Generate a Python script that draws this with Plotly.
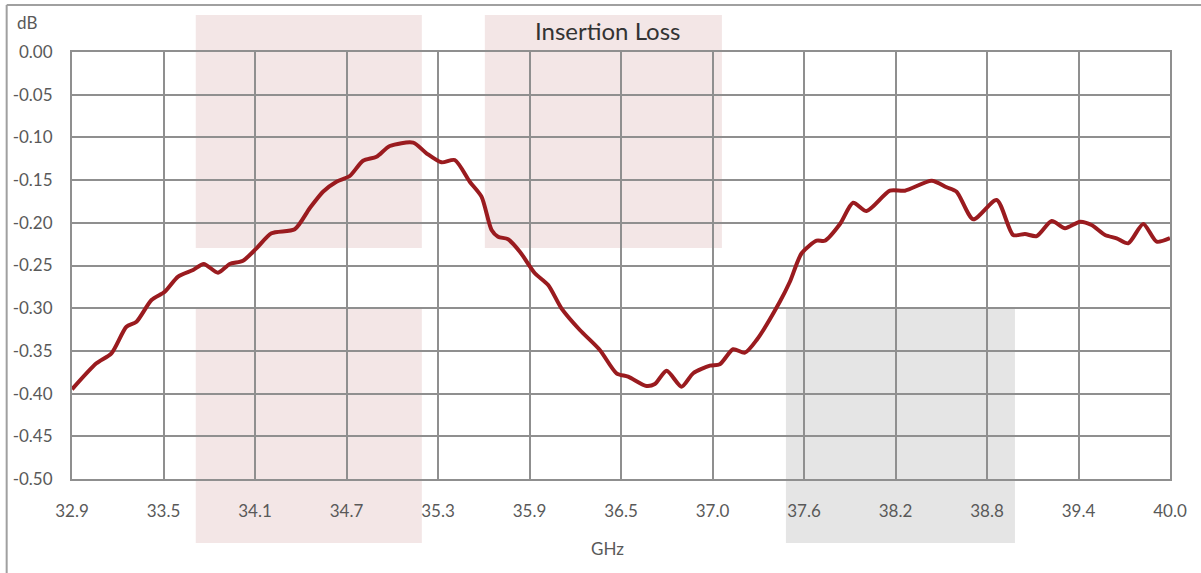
import numpy as np
import plotly.graph_objects as go

# ---- data ----
freq_ghz = [32.90, 33.058, 33.155, 33.252, 33.317, 33.414, 33.50, 33.586, 33.683, 33.752,
            33.844, 33.92, 34.006, 34.093, 34.19, 34.34, 34.437, 34.523, 34.61, 34.696,
            34.782, 34.869, 34.955, 35.106, 35.192, 35.289, 35.375, 35.472, 35.548, 35.613,
            35.655, 35.72, 35.796, 35.893, 35.979, 36.065, 36.184, 36.313, 36.421, 36.496,
            36.615, 36.669, 36.745, 36.842, 36.917, 37.025, 37.089, 37.175, 37.251, 37.327,
            37.477, 37.542, 37.618, 37.715, 37.768, 37.866, 37.951, 38.038, 38.189, 38.286,
            38.459, 38.556, 38.62, 38.728, 38.879, 38.986, 39.062, 39.138, 39.235, 39.321,
            39.418, 39.493, 39.58, 39.655, 39.73, 39.827, 39.914, 40.0]
loss_db = [-0.395, -0.3645, -0.3528, -0.3217, -0.3158, -0.2904, -0.2807, -0.2631, -0.2553, -0.2482,
           -0.2584, -0.2482, -0.2444, -0.2299, -0.2123, -0.2076, -0.1830, -0.1636, -0.1519, -0.1452,
           -0.1273, -0.1226, -0.1101, -0.1062, -0.1186, -0.1292, -0.1265, -0.1519, -0.1694, -0.2084,
           -0.2163, -0.2193, -0.2338, -0.2591, -0.2728, -0.3001, -0.3255, -0.3489, -0.3762, -0.3802,
           -0.3911, -0.3888, -0.3732, -0.3919, -0.3762, -0.3673, -0.3657, -0.3481, -0.3521, -0.3372,
           -0.2924, -0.2690, -0.2357, -0.2210, -0.2210, -0.2014, -0.1765, -0.1862, -0.1624, -0.1624,
           -0.1507, -0.1584, -0.1636, -0.1959, -0.1733, -0.2143, -0.2131, -0.2155, -0.1979, -0.2064,
           -0.1987, -0.2026, -0.2143, -0.2182, -0.2240, -0.2014, -0.2221, -0.218]

x_tick_labels = ["32.9", "33.5", "34.1", "34.7", "35.3", "35.9", "36.5",
                 "37.0", "37.6", "38.2", "38.8", "39.4", "40.0"]
y_tick_values = [0.0, -0.05, -0.10, -0.15, -0.20, -0.25, -0.30, -0.35, -0.40, -0.45, -0.50]
y_tick_labels = ["0.00", "-0.05", "-0.10", "-0.15", "-0.20", "-0.25",
                 "-0.30", "-0.35", "-0.40", "-0.45", "-0.50"]
title_text = "Insertion Loss"
x_title = "GHz"
y_title = "dB"

x_min, x_max = 32.9, 40.0
x_tick_values = list(np.linspace(x_min, x_max, len(x_tick_labels)))

FONT = "Lato"
GRID = "#8f8f8f"
LABEL = "#595959"

fig = go.Figure()
fig.add_trace(go.Scatter(
    x=freq_ghz, y=loss_db, mode="lines",
    line=dict(color="#9a1b1f", width=4, shape="spline", smoothing=0.7),
    hoverinfo="x+y", showlegend=False,
))

shapes = [
    # decorative background blocks
    dict(type="rect", xref="paper", yref="paper", x0=0.1127, x1=0.3186, y0=0.541, y1=1.0867,
         fillcolor="#f3e6e6", line=dict(width=0), layer="below"),
    dict(type="rect", xref="paper", yref="paper", x0=0.1127, x1=0.3186, y0=-0.150, y1=0.398,
         fillcolor="#f3e6e6", line=dict(width=0), layer="below"),
    dict(type="rect", xref="paper", yref="paper", x0=0.376, x1=0.5919, y0=0.541, y1=1.0867,
         fillcolor="#f3e6e6", line=dict(width=0), layer="below"),
    dict(type="rect", xref="paper", yref="paper", x0=0.6502, x1=0.8588, y0=-0.150, y1=0.398,
         fillcolor="#e5e5e5", line=dict(width=0), layer="below"),
    # outer chart frame (top and left edges)
    dict(type="line", xref="paper", yref="paper", x0=-0.0595, x1=1.04, y0=1.110, y1=1.110,
         line=dict(color="#a0a0a0", width=2)),
    dict(type="line", xref="paper", yref="paper", x0=-0.0595, x1=-0.0595, y0=-0.23, y1=1.110,
         line=dict(color="#a0a0a0", width=2)),
]

fig.update_layout(
    width=1201, height=573, autosize=False,
    margin=dict(l=72, r=31, t=52, b=94),
    paper_bgcolor="white", plot_bgcolor="rgba(0,0,0,0)",
    font=dict(family=FONT, color=LABEL, size=17),
    shapes=shapes,
    annotations=[
        dict(text=title_text, xref="paper", yref="paper", x=0.488, y=1.0515,
             xanchor="center", yanchor="middle", showarrow=False,
             font=dict(family=FONT, size=24, color="#333333")),
        dict(text=y_title, xref="paper", yref="paper", x=-0.0522, y=1.070,
             xanchor="left", yanchor="middle", showarrow=False,
             font=dict(family=FONT, size=17, color=LABEL)),
        dict(text=x_title, xref="paper", yref="paper", x=0.488, y=-0.1616,
             xanchor="center", yanchor="middle", showarrow=False,
             font=dict(family=FONT, size=17, color=LABEL)),
    ],
)

fig.update_xaxes(
    range=[x_min, x_max], tickmode="array", tickvals=x_tick_values, ticktext=x_tick_labels,
    showgrid=True, gridcolor=GRID, gridwidth=2, zeroline=False,
    showline=True, linecolor=GRID, linewidth=2, mirror=True,
    ticks="", ticklabelstandoff=16, tickfont=dict(size=17, color=LABEL, family=FONT),
)
fig.update_yaxes(
    range=[-0.5, 0.0], tickmode="array", tickvals=y_tick_values, ticktext=y_tick_labels,
    showgrid=True, gridcolor=GRID, gridwidth=2, zeroline=False,
    showline=True, linecolor=GRID, linewidth=2, mirror=True,
    ticks="", ticklabelstandoff=14, tickfont=dict(size=17, color=LABEL, family=FONT),
)

fig.write_html("out.html", config={"displayModeBar": False},
               post_script="document.body.style.margin='0px';")
